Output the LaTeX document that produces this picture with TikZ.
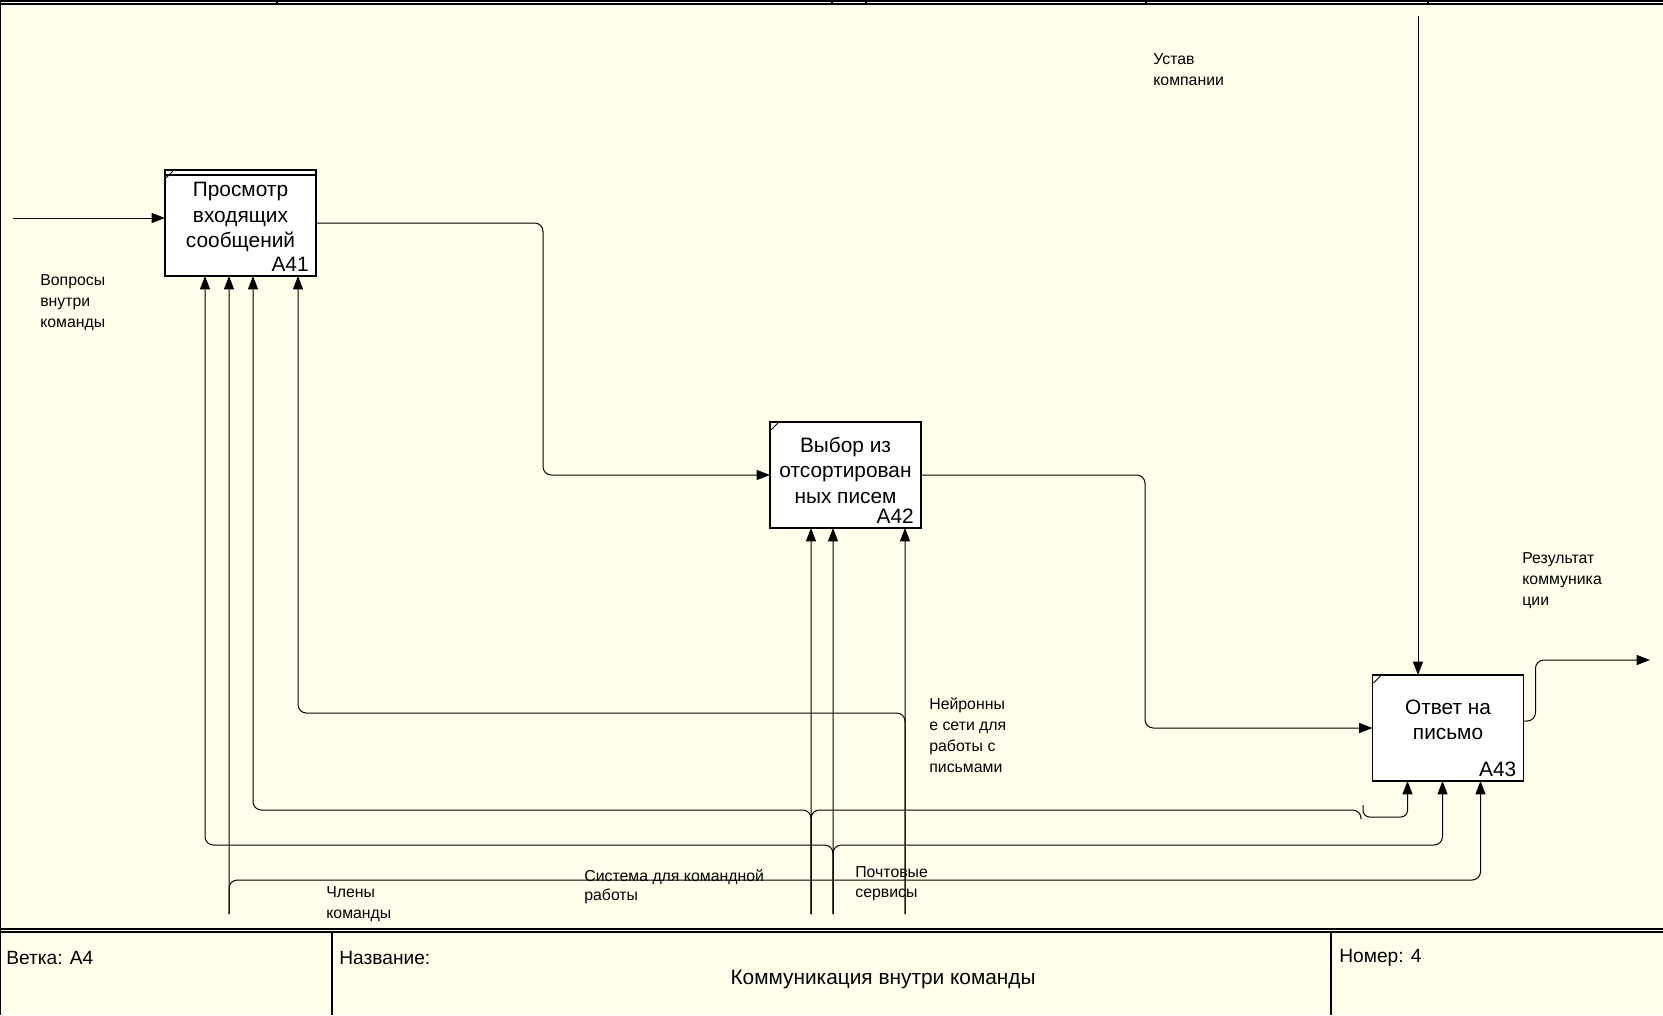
\documentclass[tikz,border=0pt]{standalone}
\usepackage{fontspec}
\setmainfont{Liberation Sans}
\usetikzlibrary{arrows.meta,calc}
\definecolor{bgc}{RGB}{255,255,235}
\begin{document}
\begin{tikzpicture}[x=0.6pt,y=-0.6pt,
 arr/.style={draw, line width=0.6pt, -{Triangle[length=8pt,width=6pt]}},
 ln/.style={draw, line width=0.6pt},
 rc/.style={rounded corners=5pt},
 box/.style={draw, line width=1pt, fill=white, minimum width=90.6pt, minimum height=63.6pt, inner sep=0pt, outer sep=0pt},
 btxt/.style={font=\fontsize{12.5}{15.3}\selectfont, align=center, inner sep=0pt},
 num/.style={font=\fontsize{12.5}{15}\selectfont, inner sep=0pt, anchor=south east},
 lbl/.style={font=\fontsize{9.5}{12.6}\selectfont, align=left, inner sep=0pt, anchor=north west},
 ttl/.style={font=\fontsize{11.5}{14}\selectfont, inner sep=0pt},
]
\useasboundingbox (0,0) rectangle (1663,1015);
\fill[bgc] (0,0) rectangle (1663,1015);

% frame
\draw[line width=0.8pt] (0,1) -- (1663,1);
\draw[line width=0.8pt] (0,4) -- (1663,4);
\foreach \xx in {277,832,866,1146,1428} \draw[line width=0.8pt] (\xx,0) -- (\xx,4);
\draw[line width=0.6pt] (0.5,0) -- (0.5,1015);
\draw[line width=0.8pt] (0,929) -- (1663,929);
\draw[line width=0.8pt] (0,932) -- (1663,932);
\draw[line width=0.8pt] (332,932) -- (332,1015);
\draw[line width=0.8pt] (1331,932) -- (1331,1015);

% title block texts
\node[ttl, anchor=west] (tvet) at (6,958) {Ветка: A4};
\node[ttl, anchor=west] (tnaz) at (339,958) {Название:};
\node[ttl, anchor=west] (tnom) at (1339,958) {Номер: 4};
\node[btxt] (tname) at (883,979) {Коммуникация внутри команды};

% boxes
\node[box] (A41) at (240.5,223) {};
\node[box] (A42) at (845.5,475) {};
\node[box] (A43) at (1448,728) {};
\draw[line width=1pt] ($(A41.north west)+(0,5)$) -- ($(A41.north east)+(0,5)$);
\foreach \b in {A41,A42,A43}
  \draw[ln] ($(\b.north west)+(1,8)$) -- ($(\b.north west)+(8,1)$);
\node[btxt] (t41) at ($(A41.center)+(0,-6)$) {Просмотр\\входящих\\сообщений};
\node[btxt] (t42) at ($(A42.center)+(0,-5)$) {Выбор из\\отсортирован\\ных писем};
\node[btxt] (t43) at ($(A43.center)+(0,-8)$) {Ответ на\\письмо};
\node[num] (n41) at ($(A41.south east)+(-7,-4)$) {A41};
\node[num] (n42) at ($(A42.south east)+(-7,-4)$) {A42};
\node[num] (n43) at ($(A43.south east)+(-7,-4)$) {A43};

% coordinates of free ends
\coordinate (inQ) at (13,218);
\coordinate (ctl) at (1418,16);
\coordinate (out) at (1650,660);
\coordinate (mCh) at (229,914);
\coordinate (mSys) at (811,914);
\coordinate (mPost) at (833,914);
\coordinate (mNN) at (905,914);

% input, control, outputs
\draw[arr] (inQ) -- (A41.west |- inQ);
\draw[arr] (ctl) -- (A43.north -| ctl);
\draw[arr,rc] (A41.east) -- ++(227,0) |- (A42.west);
\draw[arr,rc] (A42.east) -- ++(224,0) |- (A43.west);
\draw[arr,rc] ($(A43.east)+(0,-7)$) -- ++(12,0) |- (out);

% mechanisms
% Члены команды
\draw[arr] (mCh) -- ($(A41.south west)+(64,0)$);
\draw[arr,rc] (mCh) |- ($(A43.south west)+(108,99)$) -- ($(A43.south west)+(108,0)$);
% Система для командной работы
\draw[arr] (mSys) -- ($(A42.south west)+(41,0)$);
\draw[arr,rc] (mSys) |- ($(A41.south west)+(88,534)$) -- ($(A41.south west)+(88,0)$);
\draw[ln,rc] (mSys) |- (1361,810) -- (1361,819);
\draw[arr,rounded corners=4pt] (1363,805) -- (1363,817) -- ($(A43.south west)+(35,36)$) -- ($(A43.south west)+(35,0)$);
% Почтовые сервисы
\draw[arr] (mPost) -- ($(A42.south west)+(63,0)$);
\draw[arr,rc] (mPost) |- ($(A41.south west)+(40,569)$) -- ($(A41.south west)+(40,0)$);
\draw[arr,rc] (mPost) |- ($(A43.south west)+(70,64)$) -- ($(A43.south west)+(70,0)$);
% Нейронные сети
\draw[arr] (mNN) -- ($(A42.south west)+(135,0)$);
\draw[arr,rc] (mNN) |- ($(A41.south west)+(133,437)$) -- ($(A41.south west)+(133,0)$);

% labels
\node[lbl] (lQ) at (40,274) {Вопросы\\внутри\\команды};
\node[lbl] (lU) at (1153,53) {Устав\\компании};
\node[lbl] (lR) at (1522,552) {Результат\\коммуника\\ции};
\node[lbl] (lN) at (929,697) {Нейронны\\е сети для\\работы с\\письмами};
\node[lbl] (lC) at (326,886) {Члены\\команды};
\node[lbl, font=\fontsize{9.5}{11.5}\selectfont] (lS) at (584,869) {Система для командной\\работы};
\node[lbl, font=\fontsize{9.5}{12}\selectfont] (lP) at (855,866) {Почтовые\\сервисы};
\end{tikzpicture}
\end{document}
